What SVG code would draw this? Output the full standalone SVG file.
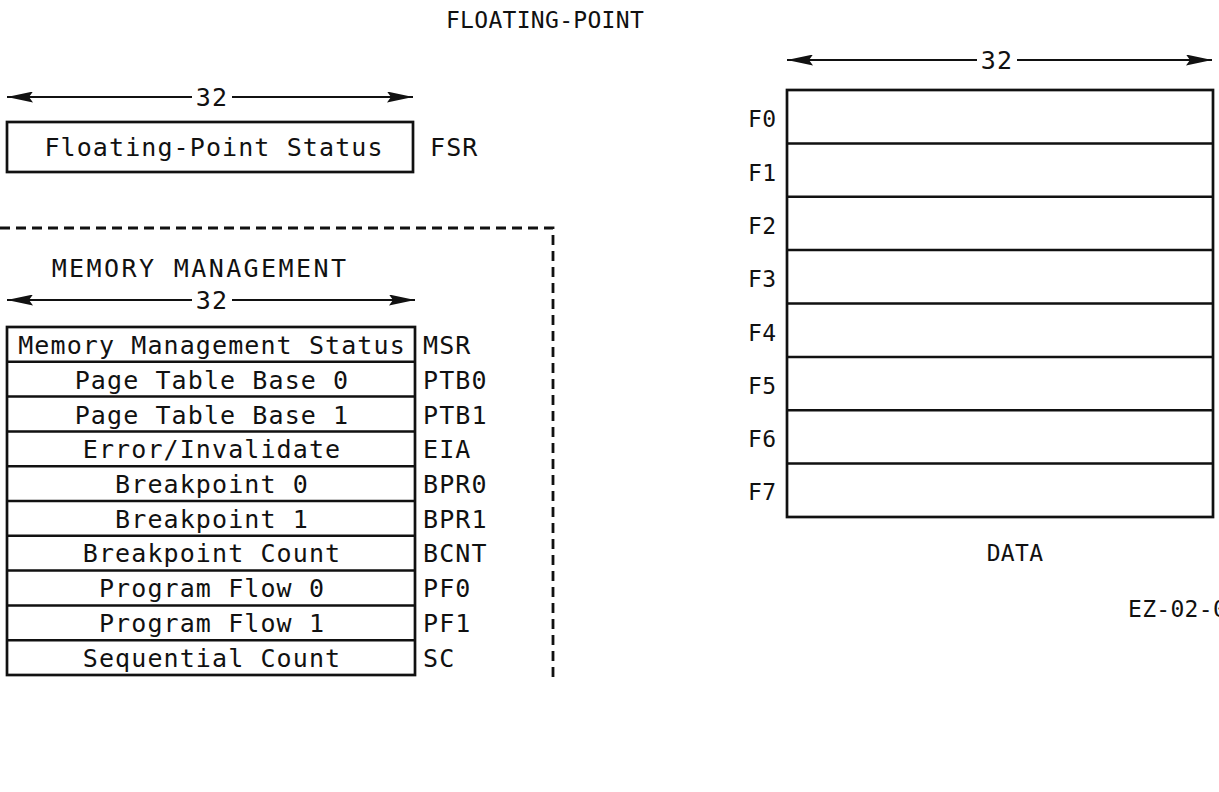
<svg xmlns="http://www.w3.org/2000/svg" width="1219" height="792" viewBox="0 0 1219 792">
<style>
text{font-family:"DejaVu Sans Mono","Liberation Mono",monospace;font-size:25px;fill:#111;letter-spacing:1.1px}
.c{text-anchor:middle}
.sm{font-size:23px;letter-spacing:0.3px}
.hd{letter-spacing:2.4px}
.box{fill:#fff;stroke:#111;stroke-width:2.7}
.ln{stroke:#111;stroke-width:2.5;fill:none}
.arr{stroke:#111;stroke-width:2.2;fill:none}
.dash{stroke:#111;stroke-width:2.8;fill:none;stroke-dasharray:10 6}
</style>
<defs>
<marker id="ah" viewBox="0 0 26 11" refX="26" refY="5.5" markerWidth="26" markerHeight="11" markerUnits="userSpaceOnUse" orient="auto"><path d="M0,0 L26,5.5 L0,11 L4,5.5 z" fill="#111"/></marker>
</defs>
<rect width="1219" height="792" fill="#fff"/>
<text id="title" class="c sm" x="545" y="28">FLOATING-POINT</text>

<g id="connectors">
<line class="arr" x1="192" y1="97" x2="7" y2="97" marker-end="url(#ah)"/>
<line class="arr" x1="232" y1="97" x2="413" y2="97" marker-end="url(#ah)"/>
<line class="arr" x1="192" y1="300" x2="7" y2="300" marker-end="url(#ah)"/>
<line class="arr" x1="232" y1="300" x2="415" y2="300" marker-end="url(#ah)"/>
<line class="arr" x1="977" y1="60" x2="787" y2="60" marker-end="url(#ah)"/>
<line class="arr" x1="1017" y1="60" x2="1212" y2="60" marker-end="url(#ah)"/>
<path class="dash" d="M0,228 H553 V680"/>
</g>
<text class="c" x="212" y="106">32</text>
<text class="c" x="212" y="309">32</text>
<text class="c" x="997" y="69">32</text>

<g id="fsr">
<rect class="box" x="7" y="122" width="406" height="50"/>
<text class="c" x="214" y="156">Floating-Point Status</text>
<text x="430" y="156">FSR</text>
</g>

<text id="mm-title" class="c hd" x="200" y="277">MEMORY MANAGEMENT</text>

<g id="mm-table">
<rect class="box" x="7" y="327" width="408" height="348"/>
<path class="ln" d="M7,361.8H415M7,396.6H415M7,431.4H415M7,466.2H415M7,501H415M7,535.8H415M7,570.6H415M7,605.4H415M7,640.2H415"/>
</g>
<g id="msr"><text class="c" x="212" y="354">Memory Management Status</text><text x="423" y="354">MSR</text></g>
<g id="ptb0"><text class="c" x="212" y="389">Page Table Base 0</text><text x="423" y="389">PTB0</text></g>
<g id="ptb1"><text class="c" x="212" y="424">Page Table Base 1</text><text x="423" y="424">PTB1</text></g>
<g id="eia"><text class="c" x="212" y="458">Error/Invalidate</text><text x="423" y="458">EIA</text></g>
<g id="bpr0"><text class="c" x="212" y="493">Breakpoint 0</text><text x="423" y="493">BPR0</text></g>
<g id="bpr1"><text class="c" x="212" y="528">Breakpoint 1</text><text x="423" y="528">BPR1</text></g>
<g id="bcnt"><text class="c" x="212" y="562">Breakpoint Count</text><text x="423" y="562">BCNT</text></g>
<g id="pf0"><text class="c" x="212" y="597">Program Flow 0</text><text x="423" y="597">PF0</text></g>
<g id="pf1"><text class="c" x="212" y="632">Program Flow 1</text><text x="423" y="632">PF1</text></g>
<g id="sc"><text class="c" x="212" y="667">Sequential Count</text><text x="423" y="667">SC</text></g>

<g id="fp-table">
<rect class="box" x="787" y="90" width="426" height="427"/>
<path class="ln" d="M787,143.4H1213M787,196.8H1213M787,250.1H1213M787,303.5H1213M787,356.9H1213M787,410.3H1213M787,463.6H1213"/>
</g>
<g id="fp-labels">
<text class="sm" x="748" y="127">F0</text>
<text class="sm" x="748" y="181">F1</text>
<text class="sm" x="748" y="234">F2</text>
<text class="sm" x="748" y="287">F3</text>
<text class="sm" x="748" y="341">F4</text>
<text class="sm" x="748" y="394">F5</text>
<text class="sm" x="748" y="447">F6</text>
<text class="sm" x="748" y="500">F7</text>
</g>
<text id="data" class="c sm" x="1015" y="561">DATA</text>
<text id="ez" class="sm" x="1128" y="617">EZ-02-0</text>
</svg>
